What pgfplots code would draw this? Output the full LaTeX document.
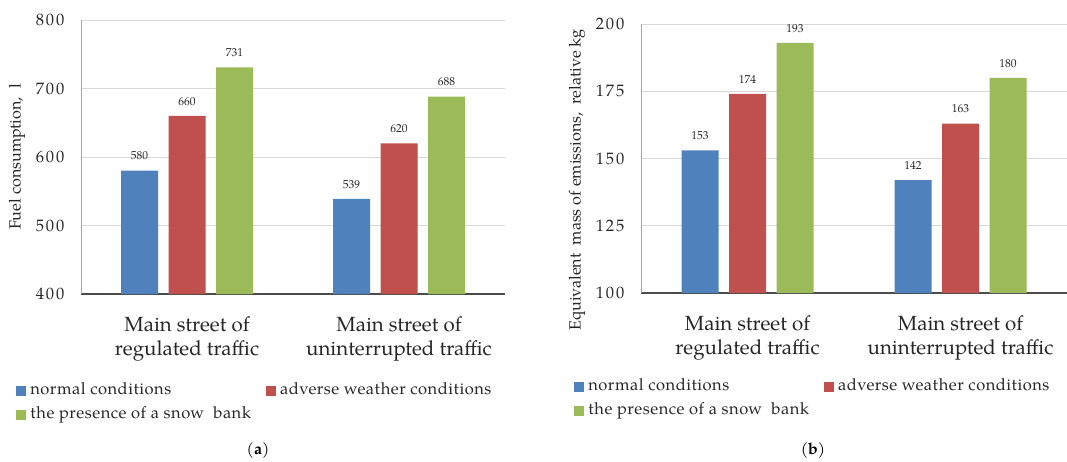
\documentclass[border=0pt]{standalone}
\usepackage{fontspec}
\setmainfont{TeX Gyre Pagella}
\newfontfamily\tickfont[LetterSpace=12]{TeX Gyre Pagella}
\newfontfamily\legfont[LetterSpace=3]{TeX Gyre Pagella}
\usepackage{pgfplots}
\pgfplotsset{compat=1.18}
\definecolor{cblue}{HTML}{4F81BD}
\definecolor{cred}{HTML}{C0504D}
\definecolor{cgreen}{HTML}{9BBB59}
\definecolor{gridgray}{HTML}{D9D9D9}

\pgfplotsset{
  panel/.style={
    scale only axis, ybar=10.5pt, bar width=37pt,
    xmin=-0.5, xmax=1.5, xtick={0,1},
    xticklabels={Main street of\\regulated traffic, Main street of\\uninterrupted traffic},
    x tick label style={align=center, font=\fontsize{20.5}{24}\selectfont, yshift=-19pt, text=black!85},
    y tick label style={font=\tickfont\fontsize{16.5}{18}\selectfont, xshift=-13pt, text=black!85},
    /pgf/number format/assume math mode=true,
    axis x line*=bottom, axis y line*=left,
    x axis line style={draw=black!70, line width=1.2pt, -},
    y axis line style={draw=black!35, line width=0.8pt, -},
    major tick length=0pt,
    ymajorgrids, grid style={gridgray, line width=0.8pt},
    nodes near coords,
    every node near coord/.append style={font=\fontsize{11.5}{13}\selectfont, text=black!85, yshift=7pt},
    legend columns=2, legend cell align=left,
    legend style={draw=none, fill=none, inner sep=0pt, anchor=north west,
      font=\legfont\fontsize{16.5}{19}\selectfont, text=black!85, row sep=5pt,
      nodes={inner sep=2pt, text height=11pt, text depth=3.5pt},
      /tikz/every even column/.append style={column sep=13pt},
      /tikz/every odd column/.append style={column sep=2pt}},
    legend image code/.code={\fill[##1, draw=none] (0pt,-5pt) rectangle (10pt,5pt);},
    ylabel style={font=\fontsize{16.2}{18}\selectfont, text=black!85, anchor=center},
  }
}

\begin{document}
\begin{tikzpicture}
\useasboundingbox (0,0) rectangle (1067pt,461pt);

% (a) fuel consumption
\begin{axis}[panel, at={(81pt,167pt)}, anchor=south west,
  width=424pt, height=274pt,
  ymin=400, ymax=800, ytick={400,500,...,800},
  ylabel={Fuel consumption,\ \ l},
  ylabel style={at={(axis description cs:-0.151,0.5)}},
  legend style={at={(axis description cs:-0.153,-0.320)}}]
\addplot[fill=cblue, draw=none] coordinates {(0,580) (1,539)};
\addplot[fill=cred, draw=none] coordinates {(0,660) (1,620)};
\addplot[fill=cgreen, draw=none] coordinates {(0,731) (1,688)};
\legend{normal conditions, adverse weather conditions, the presence of a snow\ \ bank}
\end{axis}

% (b) emissions
\begin{axis}[panel, at={(641pt,168pt)}, anchor=south west,
  width=426pt, height=269pt,
  ymin=100, ymax=200, ytick={100,125,...,200},
  ylabel={Equivalent\ \ mass of emissions,\ \ relative kg},
  ylabel style={at={(axis description cs:-0.150,0.42)}},
  legend style={at={(axis description cs:-0.157,-0.315)}}]
\addplot[fill=cblue, draw=none] coordinates {(0,153) (1,142)};
\addplot[fill=cred, draw=none] coordinates {(0,174) (1,163)};
\addplot[fill=cgreen, draw=none] coordinates {(0,193) (1,180)};
\legend{normal conditions, adverse weather conditions, the presence of a snow\ \ bank}
\end{axis}

\node[font=\fontsize{16}{18}\selectfont] at (258pt,11pt) {(\textbf{a})};
\node[font=\fontsize{16}{18}\selectfont] at (813pt,11pt) {(\textbf{b})};
\end{tikzpicture}
\end{document}
